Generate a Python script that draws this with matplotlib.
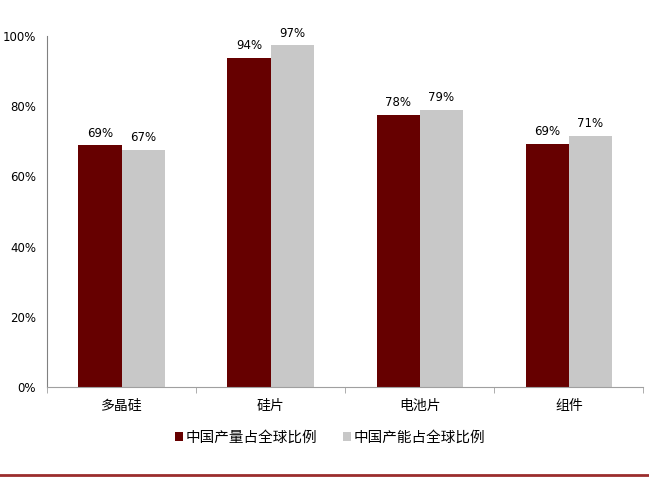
import matplotlib
matplotlib.use("Agg")
from matplotlib import pyplot as plt
from matplotlib.lines import Line2D
import numpy as np

plt.rcParams['font.family'] = ['Noto Sans CJK SC', 'DejaVu Sans']

categories = ["多晶硅", "硅片", "电池片", "组件"]
output_share = [68.9, 93.7, 77.5, 69.2]
capacity_share = [67.5, 97.4, 78.9, 71.5]
output_labels = ["69%", "94%", "78%", "69%"]
capacity_labels = ["67%", "97%", "79%", "71%"]
series_names = ["中国产量占全球比例", "中国产能占全球比例"]

dark = "#660000"
light = "#C8C8C8"

fig = plt.figure(figsize=(6.49, 4.80), dpi=100)
ax = fig.add_axes([0.0724, 0.194, 0.919, 0.731])

x = np.arange(len(categories))
w = 0.29
b1 = ax.bar(x - w / 2, output_share, width=w, color=dark, label=series_names[0])
b2 = ax.bar(x + w / 2, capacity_share, width=w, color=light, label=series_names[1])

for bars, labels in ((b1, output_labels), (b2, capacity_labels)):
    for rect, lab in zip(bars, labels):
        ax.text(rect.get_x() + rect.get_width() / 2, rect.get_height() + 1.6, lab,
                ha="center", va="bottom", fontsize=8.5, family=["DejaVu Sans"])

ax.set_xlim(-0.5, 3.5)
ax.set_ylim(0, 100)
ax.set_yticks(np.arange(0, 101, 20))
ax.set_yticklabels([f"{v}%" for v in range(0, 101, 20)], fontsize=8.5, family=["DejaVu Sans"])
ax.tick_params(axis="y", length=0, pad=8)

ax.set_xticks(x)
ax.set_xticklabels(categories, fontsize=10)
ax.set_xticks(np.arange(-0.5, 3.6, 1), minor=True)
ax.tick_params(axis="x", which="major", length=0, pad=9)
ax.tick_params(axis="x", which="minor", length=4, color="#A0A0A0")

for side in ("top", "right"):
    ax.spines[side].set_visible(False)
ax.spines["left"].set_color("#808080")
ax.spines["bottom"].set_color("#A0A0A0")

ax.legend(loc="center", bbox_to_anchor=(0.475, -0.145), ncol=2, frameon=False,
          fontsize=10.5, handlelength=0.5, handleheight=0.5, handletextpad=0.2,
          columnspacing=1.8)

fig.add_artist(Line2D([0, 1], [0.01, 0.01], transform=fig.transFigure,
                      color="#9B2D2D", linewidth=2))

plt.savefig("out.png", dpi=100)
